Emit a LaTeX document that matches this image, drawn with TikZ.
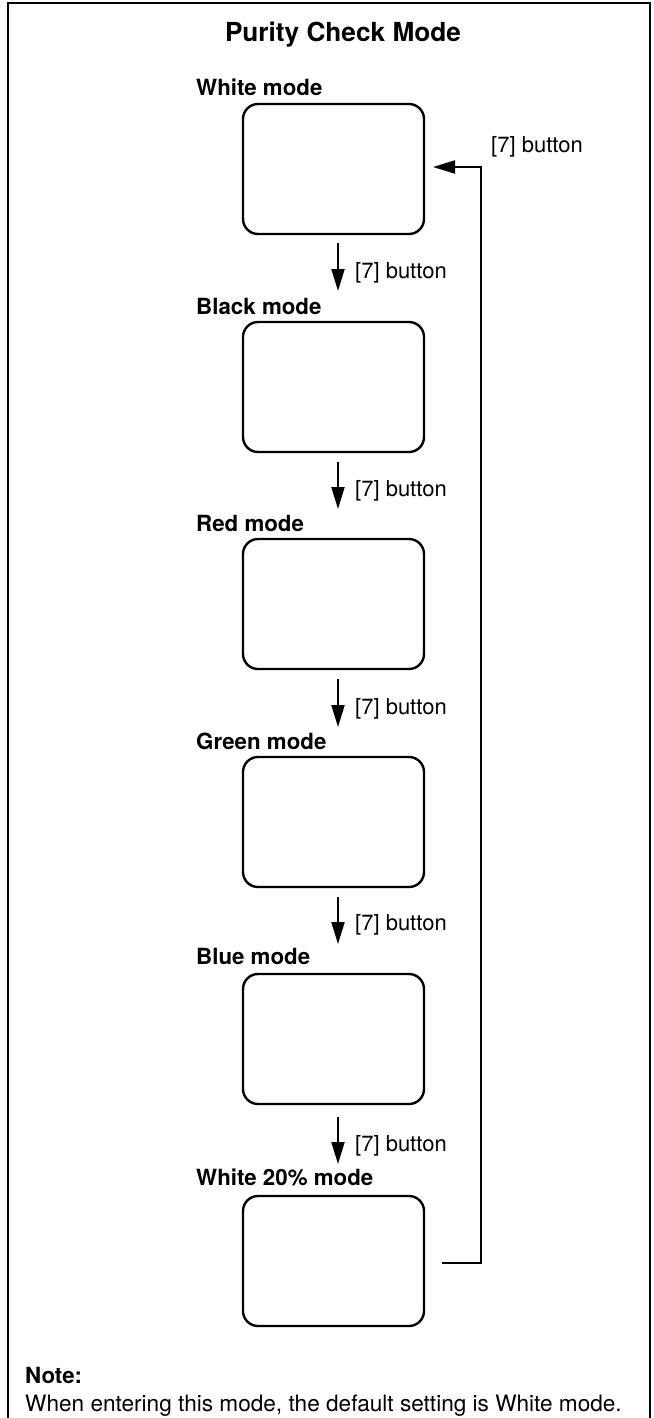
\documentclass[tikz,border=0pt]{standalone}
\usepackage{fontspec}
\setmainfont{TeX Gyre Heros}
\usetikzlibrary{arrows.meta}
\tikzset{
  modebox/.style={draw, line width=2.4pt, rounded corners=15pt, minimum width=181pt, minimum height=130pt, inner sep=0pt, outer sep=0pt},
  modelabel/.style={anchor=base west, inner sep=0pt, font=\fontsize{22.3}{26}\selectfont\bfseries},
  btnlabel/.style={anchor=base west, inner sep=0pt, font=\fontsize{22}{26}\selectfont},
  notelabel/.style={anchor=base west, inner sep=0pt, font=\fontsize{22.6}{26}\selectfont},
  flowarrow/.style={line width=2pt, -{Triangle[length=22pt,width=13pt]}},
  frame/.style={line width=2pt}
}
\begin{document}
\begin{tikzpicture}[x=1pt,y=-1pt]
\useasboundingbox (0,0) rectangle (653,1418);
% frame
\draw[frame] (8,1420) -- (8,3) -- (650,3) -- (650,1420);
% title
\node[anchor=base, inner sep=0pt, font=\fontsize{26.2}{30}\selectfont\bfseries] (title) at (343,41.5) {Purity Check Mode};
% boxes
\node[modebox] (w)   at (333.5,169) {};
\node[modebox] (k)   at (333.5,387) {};
\node[modebox] (r)   at (333.5,604) {};
\node[modebox] (g)   at (333.5,822) {};
\node[modebox] (b)   at (333.5,1039) {};
\node[modebox] (w20) at (333.5,1261) {};
% mode labels
\node[modelabel] (lw)   at (196,96)   {White mode};
\node[modelabel] (lk)   at (196,314)  {Black mode};
\node[modelabel] (lr)   at (196,531)  {Red mode};
\node[modelabel] (lg)   at (196,749)  {Green mode};
\node[modelabel] (lb)   at (196,964)  {Blue mode};
\node[modelabel] (lw20) at (196,1185) {White 20\% mode};
% arrows between modes
\coordinate (a1s) at (338,243);  \coordinate (a1e) at (338,291);
\coordinate (a2s) at (338,462);  \coordinate (a2e) at (338,509);
\coordinate (a3s) at (338,679);  \coordinate (a3e) at (338,727);
\coordinate (a4s) at (338,897);  \coordinate (a4e) at (338,944);
\coordinate (a5s) at (338,1117); \coordinate (a5e) at (338,1164);
\draw[flowarrow] (a1s) -- (a1e);
\draw[flowarrow] (a2s) -- (a2e);
\draw[flowarrow] (a3s) -- (a3e);
\draw[flowarrow] (a4s) -- (a4e);
\draw[flowarrow] (a5s) -- (a5e);
\node[btnlabel] (b1) at (355,278)  {[7] button};
\node[btnlabel] (b2) at (355,496)  {[7] button};
\node[btnlabel] (b3) at (355,714)  {[7] button};
\node[btnlabel] (b4) at (355,930)  {[7] button};
\node[btnlabel] (b5) at (355,1151) {[7] button};
% return path
\coordinate (rs) at (442,1263);
\coordinate (rc) at (481,1263);
\coordinate (re) at (433,167);
\draw[flowarrow] (rs) -- (rc) |- (re);
\node[btnlabel] (b0) at (491,153) {[7] button};
% note
\node[modelabel] (note) at (25,1383) {Note:};
\node[notelabel] (notetext) at (25,1411) {When entering this mode, the default setting is White mode.};
\end{tikzpicture}
\end{document}
